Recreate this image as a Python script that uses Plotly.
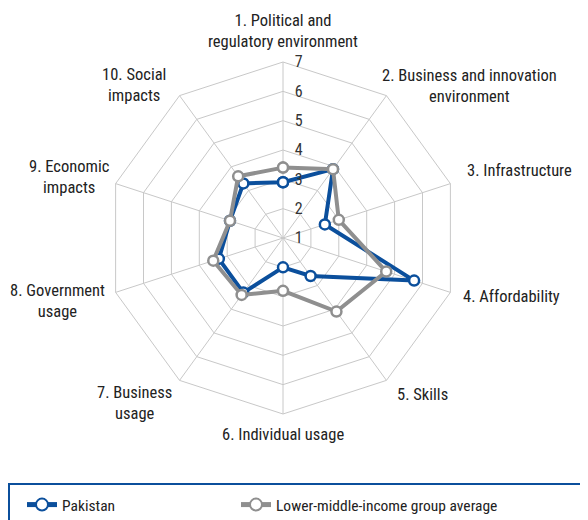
import plotly.graph_objects as go

categories = [
    "1. Political and<br>regulatory environment",
    "2. Business and innovation<br>environment",
    "3. Infrastructure",
    "4. Affordability",
    "5. Skills",
    "6. Individual usage",
    "7. Business<br>usage",
    "8. Government<br>usage",
    "9. Economic<br>impacts",
    "10. Social<br>impacts",
]
pakistan = [2.9, 3.9, 2.5, 5.7, 2.6, 2.0, 3.3, 3.3, 2.9, 3.3]
lmi_avg = [3.4, 3.9, 3.0, 4.7, 4.1, 2.8, 3.4, 3.5, 2.9, 3.6]
radial_ticks = [1, 2, 3, 4, 5, 6, 7]

W, H = 588, 520
OX, OY = 8, 8  # page body margin offset
FONT = "Liberation Sans Narrow, Arial Narrow, Roboto Condensed, Liberation Sans, sans-serif"
BLUE = "#0b4f9c"
GREY = "#8f8f8f"
GRID = "#c8c8c8"

fig = go.Figure()

def add(name, vals, color, legend):
    fig.add_trace(go.Scatterpolar(
        r=vals + vals[:1], theta=categories + categories[:1], name=name,
        mode="lines+markers", legend=legend,
        line=dict(color=color, width=4),
        marker=dict(symbol="circle", size=10, color="white",
                    line=dict(color=color, width=2.5)),
    ))

add("Pakistan", pakistan, BLUE, "legend")
add("Lower-middle-income group average", lmi_avg, GREY, "legend2")

cx, cy, R = 283 - OX, 238 - OY, 176
leg_common = dict(orientation="h", xanchor="left", yanchor="top",
                  y=1 - (488 - OY) / H, font=dict(size=15.5, color="#222"),
                  bgcolor="rgba(0,0,0,0)", itemsizing="constant")
fig.update_layout(
    width=W, height=H,
    margin=dict(l=0, r=0, t=0, b=0),
    paper_bgcolor="white", plot_bgcolor="white",
    font=dict(family=FONT, size=15, color="#222"),
    polar=dict(
        domain=dict(x=[(cx - R) / W, (cx + R) / W], y=[1 - (cy + R) / H, 1 - (cy - R) / H]),
        bgcolor="white",
        gridshape="linear",
        angularaxis=dict(rotation=90, direction="clockwise", showticklabels=False,
                         ticks="", gridcolor=GRID, gridwidth=1, linecolor=GRID, linewidth=1),
        radialaxis=dict(range=[1, 7], tickvals=radial_ticks, ticks="outside", ticklen=8,
                        tickcolor="rgba(0,0,0,0)", showline=False,
                        gridcolor=GRID, gridwidth=1, angle=90, tickangle=90,
                        tickfont=dict(size=16, color="#333")),
    ),
    showlegend=True,
    legend=dict(x=(22 - OX) / W, **leg_common),
    legend2=dict(x=(236 - OX) / W, **leg_common),
)

fig.add_shape(type="rect", xref="paper", yref="paper",
              x0=(8 - OX + 1) / W, x1=1.05, y0=-0.05, y1=1 - (484 - OY) / H,
              line=dict(color=BLUE, width=2), fillcolor="rgba(0,0,0,0)", layer="below")

label_pos = [(283, 31.5), (469, 86), (519, 170), (511, 296), (422, 394),
             (283, 434), (134, 403), (57, 300.5), (69, 177.5), (134, 85)]
for text, (x, y) in zip(categories, label_pos):
    fig.add_annotation(text=text, x=(x - OX) / W, y=1 - (y - OY) / H, xref="paper", yref="paper",
                       xanchor="center", yanchor="middle", showarrow=False,
                       font=dict(size=16.5, color="#222"), align="center")

fig.write_html("out.html")
